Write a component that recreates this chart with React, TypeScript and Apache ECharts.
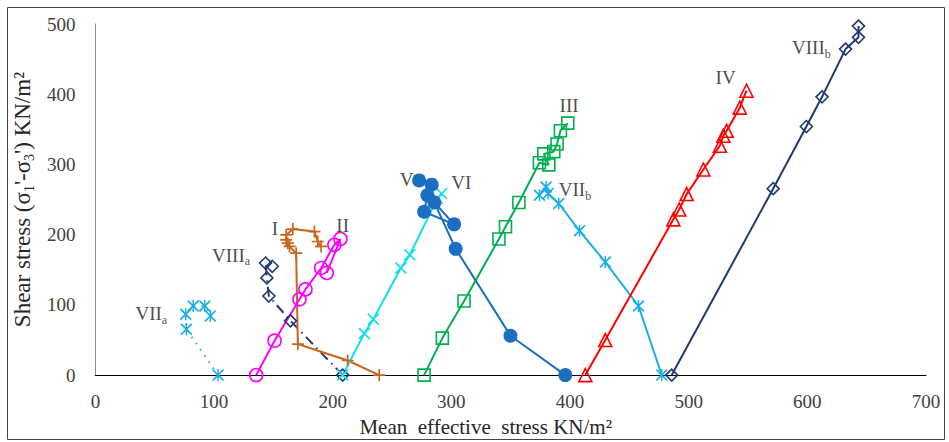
import React, { useEffect, useRef } from "react";
import * as echarts from "echarts";

// ---- data (mean effective stress, shear stress) ----
const pathI: [number, number][] = [
  [239.2, 0], [212.6, 20.8], [170.6, 44.2], [169.2, 173.7], [163.6, 183.2], [162.2, 187.9],
  [160.8, 192.5], [160.8, 199.6], [166.4, 208], [184.6, 204.4], [187.4, 190.3], [190.2, 183.2],
];
const pathII: [number, number][] = [
  [135.5, 0], [151, 49], [172, 108], [177, 122], [190.2, 152.5], [201.4, 185.5], [206.5, 193.9], [195, 145.5],
];
const pathIII: [number, number][] = [
  [277, 0], [292.4, 52.7], [310.7, 105.5], [340.1, 193.9], [345.6, 211.3], [356.9, 245.8], [374.2, 302.3],
  [382.1, 299.4], [377.9, 315], [386.3, 318.2], [389.1, 329.1], [391.9, 347.9], [398.1, 358.8],
];
const pathIV: [number, number][] = [
  [412.9, 0], [429.7, 49.9], [487.1, 221.8], [492, 235.9], [498.3, 257.8], [512.4, 292.8],
  [526.3, 326.7], [529.2, 340.9], [532, 347.9], [543.1, 380.9], [548.7, 405],
];
const pathV: [number, number][] = [
  [396, 0], [349.8, 56.1], [303.6, 179.8], [285.7, 245.8], [302.3, 214.7], [277, 232.6],
  [279.8, 256], [283.4, 271.2], [272.8, 277.3],
];
const pathVI: [number, number][] = [
  [208.4, 0], [226.6, 59.3], [234.2, 79.5], [257.4, 152.5], [265, 171.3], [288.2, 251.4], [291.8, 258.5],
];
const pathVIIa: [number, number][] = [
  [103.4, 0], [76.7, 65.4], [76.1, 86.6], [82.4, 98.4], [92.2, 98.4], [96.9, 84.3],
];
const pathVIIb: [number, number][] = [
  [477.3, 0], [457.7, 98.4], [429.7, 161], [408, 205.5], [390.5, 244.4], [381.5, 258.5], [379.8, 267.9], [374.2, 256.1],
];
const pathVIIIa: [number, number][] = [
  [208.4, 0], [164.4, 77.3], [146.2, 112.6], [144.5, 138.4], [143.4, 159.6], [149, 155],
];
const pathVIIIb: [number, number][] = [
  [485.7, 0], [571.2, 265.5], [599.2, 354], [612.4, 396.3], [632.2, 464.3], [643.1, 481], [643.1, 497],
];

// curve labels
const labelNames = ["VII", "VIII", "I", "II", "V", "VI", "III", "VII", "IV", "VIII"];
const labelSubs = ["a", "a", "", "", "", "", "", "b", "", "b"];
const labelX = [47.1, 114.3, 151.3, 208.4, 262.2, 308.4, 399.2, 404.2, 531.1, 603.4];
const labelY = [87.6, 171, 209, 213, 278, 274, 384, 264, 423.7, 466];

// axis ticks
const xMin = 0, xMax = 700, xStep = 100;
const yMin = 0, yMax = 500, yStep = 100;

const FONT = "'Liberation Serif', 'Times New Roman', serif";

const SYM_PLUS = "path://M0,4.3H10V5.7H0Z M4.3,0H5.7V10H4.3Z";
const SYM_X = "path://M0,1L1,0L5,4L9,0L10,1L6,5L10,9L9,10L5,6L1,10L0,9L4,5Z";
const SYM_AST = "path://M0,1L1,0L5,4L9,0L10,1L6,5L10,9L9,10L5,6L1,10L0,9L4,5Z M4.4,0H5.6V10H4.4Z";

function lineSeries(name: string, data: [number, number][], color: string, symbol: string, size: number, hollow: boolean, lineType: any = "solid") {
  return {
    type: "line",
    name,
    data,
    symbol,
    symbolSize: size,
    showAllSymbol: true,
    clip: false,
    lineStyle: { color, width: 2, type: lineType },
    itemStyle: hollow
      ? { color: "rgba(0,0,0,0)", borderColor: color, borderWidth: 1.6 }
      : { color, borderWidth: 0 },
    emphasis: { disabled: true },
  };
}

export default function App() {
  const ref = useRef<HTMLDivElement>(null);
  useEffect(() => {
    if (!ref.current) return;
    const chart = echarts.init(ref.current, undefined, { renderer: "svg" });
    const labelData = labelNames.map((n, i) => ({ value: [labelX[i], labelY[i]], name: n, sub: labelSubs[i] }));
    chart.setOption({
      animation: false,
      backgroundColor: "#ffffff",
      grid: { left: 92, right: 23, top: 24, bottom: 64 },
      xAxis: {
        type: "value",
        min: xMin,
        max: xMax,
        interval: xStep,
        splitLine: { show: false },
        axisTick: { show: false },
        axisLine: { onZero: false, lineStyle: { color: "#000", width: 1.2 } },
        axisLabel: { color: "#404040", fontFamily: FONT, fontSize: 19, margin: 17 },
        name: "Mean\u00a0 effective\u00a0 stress KN/m²",
        nameLocation: "middle",
        nameGap: 36,
        nameTextStyle: { color: "#262626", fontFamily: FONT, fontSize: 21, padding: [0, 50, 0, 0] },
      },
      yAxis: {
        type: "value",
        min: yMin,
        max: yMax,
        interval: yStep,
        splitLine: { show: false },
        axisTick: { show: false },
        axisLine: { show: true, lineStyle: { color: "#8c8c8c", width: 1 } },
        axisLabel: { color: "#404040", fontFamily: FONT, fontSize: 19, margin: 20 },
        name: "Shear stress (σ{s|1}'-σ{s|3}') KN/m²",
        nameLocation: "middle",
        nameGap: 47,
        nameTextStyle: {
          color: "#262626",
          fontFamily: FONT,
          fontSize: 23,
          lineHeight: 28,
          rich: {
            s: { fontFamily: FONT, fontSize: 14, color: "#262626", verticalAlign: "bottom", lineHeight: 28 },
          },
        },
      },
      graphic: [
        {
          type: "rect",
          shape: { x: 7.5, y: 7.5, width: 937, height: 432 },
          style: { fill: "none", stroke: "#444", lineWidth: 1 },
          silent: true,
          z: 100,
        },
      ],
      series: [
        lineSeries("VII_a", pathVIIa, "#1aaee8", SYM_AST, 12, false, [1.5, 6]),
        lineSeries("VIII_a", pathVIIIa, "#1f3a70", "diamond", 12, true, [10, 5, 1.5, 5]),
        lineSeries("I", pathI, "#c8651b", SYM_PLUS, 12, false),
        lineSeries("II", pathII, "#ff00ff", "circle", 13, true),
        lineSeries("VI", pathVI, "#10e0f0", SYM_X, 12, false),
        lineSeries("V", pathV, "#1b6ec2", "circle", 14, false),
        lineSeries("III", pathIII, "#00b050", "rect", 12, true),
        lineSeries("VII_b", pathVIIb, "#1aaee8", SYM_AST, 12, false),
        lineSeries("IV", pathIV, "#ff0000", "triangle", 13, true),
        lineSeries("VIII_b", pathVIIIb, "#1f3a70", "diamond", 12, true),
        {
          type: "scatter",
          name: "labels",
          data: labelData,
          symbolSize: 1,
          itemStyle: { color: "rgba(0,0,0,0)" },
          silent: true,
          clip: false,
          label: {
            show: true,
            position: "inside",
            formatter: (p: any) => (p.data.sub ? `{m|${p.data.name}}{s|${p.data.sub}}` : `{m|${p.data.name}}`),
            rich: {
              m: { fontFamily: FONT, fontSize: 19, color: "#1a1a1a", lineHeight: 24 },
              s: { fontFamily: FONT, fontSize: 12, color: "#1a1a1a", lineHeight: 24, verticalAlign: "bottom" },
            },
          },
          z: 10,
        },
      ],
    });
    return () => chart.dispose();
  }, []);
  return <div ref={ref} style={{ position: "fixed", left: 0, top: 0, width: 949, height: 442 }} />;
}
